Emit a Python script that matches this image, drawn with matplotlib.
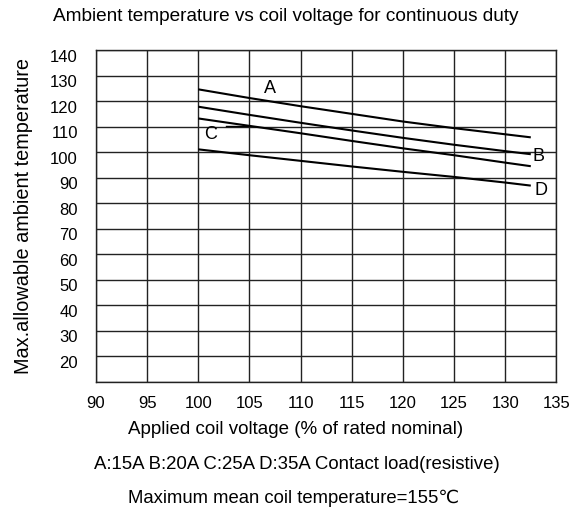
import matplotlib
matplotlib.use("Agg")
import matplotlib.pyplot as plt
import matplotlib.transforms as mtransforms
import numpy as np

plt.rcParams['font.family'] = ['Liberation Sans', 'DejaVu Sans']

# curve data (voltage %, max ambient temp)
voltage = [100, 105, 110, 115, 120, 125, 130, 132.5]
temp_a = [124.6, 121.2, 118.0, 115.0, 112.0, 109.4, 107.0, 105.8]
temp_b = [117.8, 114.6, 111.5, 108.5, 105.6, 102.9, 100.4, 99.2]
temp_c = [113.2, 110.3, 107.4, 104.4, 101.5, 98.8, 95.9, 94.5]
temp_d = [101.1, 98.8, 96.6, 94.4, 92.3, 90.3, 88.1, 86.9]

x_ticks = [90, 95, 100, 105, 110, 115, 120, 125, 130, 135]
y_ticks = [20, 30, 40, 50, 60, 70, 80, 90, 100, 110, 120, 130, 140]

fig = plt.figure(figsize=(5.73, 5.13), dpi=100)
ax = fig.add_axes([0.1675, 0.2554, 0.8035, 0.6471])

for t in [temp_a, temp_b, temp_c, temp_d]:
    ax.plot(voltage, t, color='black', lw=1.5, solid_capstyle='butt')

ax.set_xlim(90, 135)
ax.set_ylim(10, 140)
ax.set_xticks(x_ticks)
ax.set_yticks(y_ticks)
ax.set_yticks([10], minor=True)
ax.grid(True, which='both', color='#222222', lw=1.0)
ax.tick_params(which='both', length=0)
ax.tick_params(labelsize=12, pad=10)
ax.tick_params(axis='y', pad=13)
for lab in ax.get_yticklabels():
    lab.set_transform(lab.get_transform() + mtransforms.ScaledTranslation(0, -4 / 72, fig.dpi_scale_trans))
for s in ax.spines.values():
    s.set_color('#222222')
    s.set_linewidth(1.0)

# curve labels
ax.text(107, 124.8, 'A', fontsize=13, ha='center', va='center')
ax.text(133.3, 98.4, 'B', fontsize=13, ha='center', va='center')
ax.text(101.2, 106.8, 'C', fontsize=13, ha='center', va='center')
ax.text(133.5, 84.8, 'D', fontsize=13, ha='center', va='center')
ax.plot([102.7, 105.0], [110.3, 110.3], color='black', lw=1.0)

fig.text(0.498, 0.967, 'Ambient temperature vs coil voltage for continuous duty',
         fontsize=13.7, ha='center', va='center')
ax.set_ylabel('Max.allowable ambient temperature', fontsize=14.3, labelpad=12)
fig.text(0.515, 0.162, 'Applied coil voltage (% of rated nominal)',
         fontsize=13.5, ha='center', va='center')
fig.text(0.518, 0.094, 'A:15A B:20A C:25A D:35A Contact load(resistive)',
         fontsize=13.4, ha='center', va='center')
fig.text(0.512, 0.029, 'Maximum mean coil temperature=155\u2103',
         fontsize=13.3, ha='center', va='center')

fig.savefig('out.png', dpi=100)
